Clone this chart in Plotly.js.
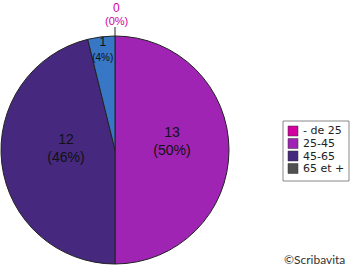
<!DOCTYPE html>
<html><head><meta charset="utf-8">
<script src="https://cdn.plot.ly/plotly-3.0.1.min.js"></script>
<style>html,body{margin:0;padding:0;background:#fff}#chart{width:350px;height:266px}</style>
</head><body><div id="chart"></div>
<script>
const labels = ['- de 25', '25-45', '45-65', '65 et +'];
const values = [0, 13, 12, 1];
const sliceColors = ['#d400a0', '#a024b4', '#46297f', '#3876c6'];
const legendColors = ['#d400a0', '#a024b4', '#46297f', '#505050'];

const W = 350, H = 266;
const px = x => x / W, py = y => 1 - y / H;
const total = values.reduce((a, b) => a + b, 0);
const pct = v => Math.round(100 * v / total) + '%';
const pad = '\u00a0\u00a0\u00a0\u00a0';

const templates = [
  '',
  '%{value}<br>(%{percent:.0%})<br>\u00a0',
  pad + '%{value}<br>' + pad + '(%{percent:.0%})<br>\u00a0',
  '%{value}<br><span style="font-size:10px">(%{percent:.0%})</span>'
];

const trace = {
  type: 'pie', labels: labels, values: values, sort: false,
  direction: 'clockwise', rotation: 0,
  marker: {colors: sliceColors, line: {color: '#222', width: 1}},
  texttemplate: templates,
  textposition: 'inside', insidetextorientation: 'horizontal',
  textfont: {family: 'Liberation Sans, Arial, sans-serif', size: [14, 14, 14, 12], color: '#111'},
  domain: {x: [px(1), px(229)], y: [py(264), py(36)]},
  showlegend: false, hoverinfo: 'none'
};

const shapes = [{type: 'rect', xref: 'paper', yref: 'paper', x0: px(283), x1: px(349), y0: py(181), y1: py(121),
  line: {color: '#888', width: 1}, fillcolor: 'rgba(0,0,0,0)'},
  {type: 'line', xref: 'paper', yref: 'paper', x0: px(115), x1: px(115), y0: py(36), y1: py(27),
  line: {color: '#222', width: 1}}];
const annotations = [];
const rowY = [131, 143.5, 156, 168.5];
labels.forEach((lab, i) => {
  shapes.push({type: 'rect', xref: 'paper', yref: 'paper', x0: px(288), x1: px(298), y0: py(rowY[i] + 5), y1: py(rowY[i] - 5),
    fillcolor: legendColors[i], line: {color: '#333', width: 0.5}});
  annotations.push({xref: 'paper', yref: 'paper', x: px(301), y: py(rowY[i]), xanchor: 'left', yanchor: 'middle',
    text: lab, showarrow: false, font: {family: 'DejaVu Sans', size: 11, color: '#222'}});
});
// label for the zero slice, above the top of the pie
annotations.push({xref: 'paper', yref: 'paper', x: px(116.5), y: py(7.5), xanchor: 'center', yanchor: 'middle',
  text: String(values[0]), showarrow: false, borderpad: 0,
  font: {family: 'Liberation Sans, Arial, sans-serif', size: 12, color: sliceColors[0]}});
annotations.push({xref: 'paper', yref: 'paper', x: px(116.5), y: py(21), xanchor: 'center', yanchor: 'middle',
  text: '(' + pct(values[0]) + ')', showarrow: false, borderpad: 0,
  font: {family: 'Liberation Sans, Arial, sans-serif', size: 11, color: sliceColors[0]}});
annotations.push({xref: 'paper', yref: 'paper', x: px(347), y: py(259), xanchor: 'right', yanchor: 'middle',
  text: '©Scribavita', showarrow: false, font: {family: 'Lato, sans-serif', size: 12, color: '#333'}});

const layout = {width: W, height: H, margin: {l: 0, r: 0, t: 0, b: 0},
  uniformtext: {mode: 'show', minsize: 12},
  paper_bgcolor: '#fff', plot_bgcolor: '#fff', showlegend: false, shapes: shapes, annotations: annotations};
Plotly.newPlot('chart', [trace], layout, {staticPlot: true, displayModeBar: false});
</script></body></html>
